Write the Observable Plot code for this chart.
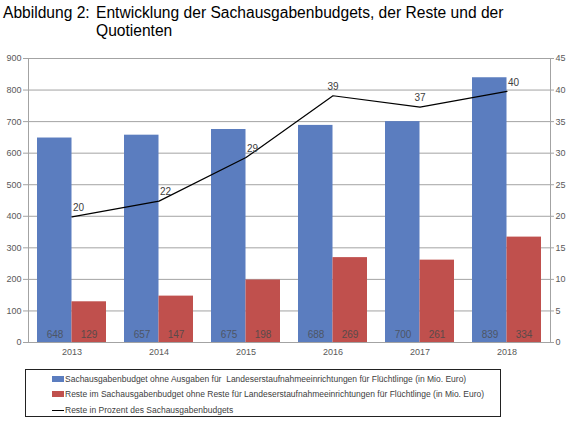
<!DOCTYPE html>
<html>
<head>
<meta charset="utf-8">
<script src="https://cdn.jsdelivr.net/npm/d3@7"></script>
<script src="https://cdn.jsdelivr.net/npm/@observablehq/plot@0.6"></script>
<style>
  html, body { margin: 0; padding: 0; background: #fff; }
  body { font-family: Arial, "Liberation Sans", sans-serif; }
  #wrap { position: relative; width: 570px; height: 421px; overflow: hidden; }
  .tl { position: absolute; font-size: 15.6px; line-height: 17px; color: #000; white-space: nowrap; }
  #chart { position: absolute; top: 0; left: 0; }
  #legend { position: absolute; left: 25px; top: 369px; width: 476px; height: 48px; border: 1px solid #222; box-sizing: border-box; font-size: 8.5px; color: #404040; }
  #legend .row { position: absolute; left: 26px; height: 10px; display: flex; align-items: center; white-space: pre; }
  #legend .sw { width: 12px; height: 6px; margin-right: 1px; }
  #legend .ln { width: 12px; height: 0; border-top: 1.3px solid #000; margin-right: 1px; }
</style>
</head>
<body>
<div id="wrap">
  <div class="tl" style="left:3px; top:4px;">Abbildung 2:</div>
  <div class="tl" style="left:96px; top:4px;">Entwicklung der Sachausgabenbudgets, der Reste und der</div>
  <div class="tl" style="left:96px; top:22px;">Quotienten</div>
  <div id="chart"></div>
  <div id="legend"></div>
</div>
<script>
// ---- data ----
const years = ["2013", "2014", "2015", "2016", "2017", "2018"];
const budget = [648, 657, 675, 688, 700, 839];
const reste = [129, 147, 198, 269, 261, 334];
const quote = [19.9, 22.4, 29.3, 39.1, 37.3, 39.8];
const quoteLabels = ["20", "22", "29", "39", "37", "40"];
const leftTicks = [0, 100, 200, 300, 400, 500, 600, 700, 800, 900];
const rightTicks = [0, 5, 10, 15, 20, 25, 30, 35, 40, 45];
const seriesNames = [
  "Sachausgabenbudget ohne Ausgaben für  Landeserstaufnahmeeinrichtungen für Flüchtlinge (in Mio. Euro)",
  "Reste im Sachausgabenbudget ohne Reste für Landeserstaufnahmeeinrichtungen für Flüchtlinge (in Mio. Euro)",
  "Reste in Prozent des Sachausgabenbudgets"
];
const centeredLabelYears = ["2016", "2017"];

const blue = "#5b7dbf";
const red = "#c0504d";
const grid = "#a3a3a3";
const ratio = leftTicks[leftTicks.length - 1] / rightTicks[rightTicks.length - 1];

const rows = years.map((y, i) => ({year: y, budget: budget[i], reste: reste[i], quote: quote[i], qlabel: quoteLabels[i]}));

const chart = Plot.plot({
  width: 570,
  height: 421,
  marginTop: 58,
  marginBottom: 79,
  marginLeft: 28,
  marginRight: 20,
  style: {fontFamily: "Arial, 'Liberation Sans', sans-serif", fontSize: "9px", color: "#595959", background: "transparent"},
  x: {type: "band", domain: years, paddingInner: 0.207, paddingOuter: 0.1035, label: null},
  y: {domain: [0, 900], label: null},
  marks: [
    Plot.gridY(leftTicks, {stroke: grid, strokeOpacity: 1}),
    Plot.barY(rows, {x: "year", y: "budget", fill: blue, insetRight: 34.5}),
    Plot.barY(rows, {x: "year", y: "reste", fill: red, insetLeft: 34.5}),
    Plot.frame({stroke: grid, strokeOpacity: 1}),
    Plot.axisY(leftTicks, {anchor: "left", tickSize: 5, tickPadding: 2, stroke: grid, label: null}),
    Plot.axisY(rightTicks.map(t => t * ratio), {anchor: "right", tickSize: 3, tickPadding: 2, stroke: grid, tickFormat: d => String(d / ratio), label: null}),
    Plot.axisX({anchor: "bottom", tickSize: 0, tickPadding: 6, label: null}),
    Plot.text(rows, {x: "year", y: 0, text: d => String(d.budget), dx: -17, dy: -8, fill: "#4d5566", fontSize: 10}),
    Plot.text(rows, {x: "year", y: 0, text: d => String(d.reste), dx: 17, dy: -8, fill: "#5a4a4a", fontSize: 10}),
    Plot.line(rows, {x: "year", y: d => d.quote * ratio, stroke: "#000", strokeWidth: 1.2}),
    Plot.text(rows.filter(d => !centeredLabelYears.includes(d.year)), {x: "year", y: d => d.quote * ratio, text: "qlabel", textAnchor: "start", dx: 1, dy: -9, fill: "#404040", fontSize: 10}),
    Plot.text(rows.filter(d => centeredLabelYears.includes(d.year)), {x: "year", y: d => d.quote * ratio, text: "qlabel", textAnchor: "middle", dx: 0, dy: -9, fill: "#404040", fontSize: 10})
  ]
});
document.getElementById("chart").appendChild(chart);

// legend
const legend = document.getElementById("legend");
const legendTops = [4, 19, 35];
seriesNames.forEach((name, i) => {
  const row = document.createElement("div");
  row.className = "row";
  row.style.top = legendTops[i] + "px";
  const sw = document.createElement("span");
  if (i < 2) { sw.className = "sw"; sw.style.background = i === 0 ? blue : red; }
  else { sw.className = "ln"; }
  const t = document.createElement("span");
  t.textContent = name;
  row.appendChild(sw);
  row.appendChild(t);
  legend.appendChild(row);
});
</script>
</body>
</html>
